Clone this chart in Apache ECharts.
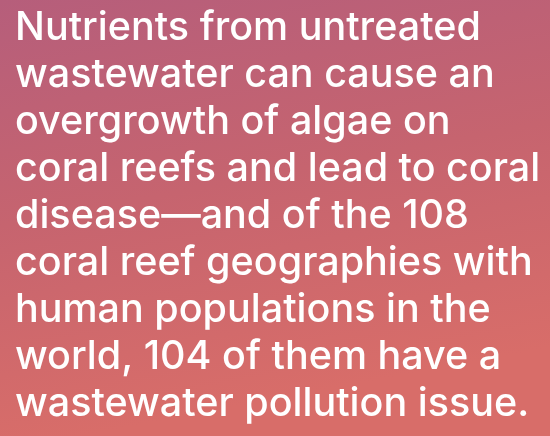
<!DOCTYPE html>
<html><head><meta charset="utf-8">
<script src="https://cdn.jsdelivr.net/npm/echarts@6/dist/echarts.min.js"></script>
<style>html,body{margin:0;padding:0;}#c{width:550px;height:436px;}</style>
</head><body><div id="c"></div>
<script>
const lines = [
  "Nutrients from untreated",
  "wastewater can cause an",
  "overgrowth of algae on",
  "coral reefs and lead to coral",
  "disease\u2014and of the 108",
  "coral reef geographies with",
  "human populations in the",
  "world, 104 of them have a",
  "wastewater pollution issue."
];
const chart = echarts.init(document.getElementById('c'), null, {renderer:'canvas'});
const textEls = lines.map((t, i) => ({
  type: 'text',
  left: 15,
  top: 8 + 47 * i,
  style: {
    text: t,
    fill: '#ffffff',
    font: '500 39.5px Inter, "Open Sans", sans-serif'
  }
}));
chart.setOption({
  backgroundColor: {
    type: 'linear', x: 0, y: 0, x2: 0.15, y2: 1,
    colorStops: [
      {offset: 0, color: '#b65e7b'},
      {offset: 0.5, color: '#c6646f'},
      {offset: 1, color: '#d86d69'}
    ]
  },
  graphic: textEls
});
</script></body></html>
